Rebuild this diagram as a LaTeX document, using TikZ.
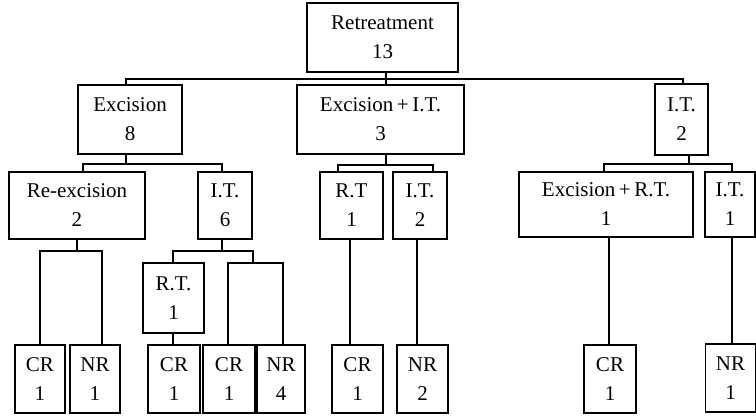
\documentclass[tikz,border=0pt]{standalone}
\usepackage{fontspec}
\setmainfont{Liberation Serif}
\begin{document}
\begin{tikzpicture}[x=1pt,y=-1pt,
  box/.style={draw, line width=1.5pt, inner sep=0pt, align=center,
    font=\fontsize{21}{29}\selectfont},
  conn/.style={line width=1.5pt, line cap=rect}]
\useasboundingbox (0,0) rectangle (756,416);
% level 0
\node[box, minimum width=151pt, minimum height=69pt] (ret) at (382.5,37.5) {Retreatment\\13};
% level 1
\node[box, minimum width=104pt, minimum height=69pt] (exc) at (130,119.5) {Excision\\8};
\node[box, minimum width=167pt, minimum height=69pt] (ei) at (380.5,119.5) {Excision\,+\,I.T.\\3};
\node[box, minimum width=53pt, minimum height=71pt] (it2) at (681.5,119.5) {I.T.\\2};
% level 2
\node[box, minimum width=136pt, minimum height=67pt] (reex) at (77,205.5) {Re-excision\\2};
\node[box, minimum width=54pt, minimum height=67pt] (it6) at (225,205.5) {I.T.\\6};
\node[box, minimum width=63pt, minimum height=67pt] (rt1) at (351.5,205.5) {R.T\\1};
\node[box, minimum width=54pt, minimum height=67pt] (it2b) at (420,205.5) {I.T.\\2};
\node[box, minimum width=174pt, minimum height=65pt] (exrt) at (606,204.5) {Excision\,+\,R.T.\\1};
\node[box, minimum width=50pt, minimum height=65pt] (it1) at (730,204.5) {I.T.\\1};
% level 3
\node[box, minimum width=61pt, minimum height=70pt] (rtA) at (173.5,298) {R.T.\\1};
% leaves
\node[box, minimum width=50pt, minimum height=68pt] (cr1) at (40,379) {CR\\1};
\node[box, minimum width=50pt, minimum height=68pt] (nr1) at (95,379) {NR\\1};
\node[box, minimum width=52pt, minimum height=68pt] (cr2) at (174,379) {CR\\1};
\node[box, minimum width=52pt, minimum height=68pt] (cr3) at (229,379) {CR\\1};
\node[box, minimum width=48pt, minimum height=68pt] (nr4) at (281,379) {NR\\4};
\node[box, minimum width=51pt, minimum height=68pt] (cr4) at (357.5,379) {CR\\1};
\node[box, minimum width=51pt, minimum height=68pt] (nr2) at (422.5,379) {NR\\2};
\node[box, minimum width=52pt, minimum height=68pt] (cr5) at (610,379) {CR\\1};
\node[box, minimum width=50pt, minimum height=68pt] (nr1b) at (730.5,378) {NR\\1};
% junction coordinates
\coordinate (t0) at (386,79); \coordinate (tL) at (126,79); \coordinate (tR) at (683,79);
\coordinate (e0) at (126,164); \coordinate (eL) at (83,164); \coordinate (eR) at (222,164);
\coordinate (f0) at (386,165); \coordinate (fL) at (338,165); \coordinate (fR) at (433,165);
\coordinate (g0) at (689,164); \coordinate (gL) at (604,164); \coordinate (gR) at (732,164);
\coordinate (h0) at (77,251); \coordinate (hL) at (40,251); \coordinate (hR) at (102,251);
\coordinate (k0) at (222,251); \coordinate (kL) at (173,251); \coordinate (kR) at (253,251);
\coordinate (m0) at (253,263); \coordinate (mL) at (228,263); \coordinate (mR) at (283,263);
\coordinate (p1) at (173,0); \coordinate (p2) at (350,0); \coordinate (p3) at (417,0);
\coordinate (p4) at (609,0); \coordinate (p5) at (732,0);
% connectors
\draw[conn] (ret.south -| t0) -- (ei.north -| t0);
\draw[conn] (exc.north -| tL) |- (tR) -- (it2.north -| tR);
\draw[conn] (exc.south -| e0) -- (e0);
\draw[conn] (reex.north -| eL) |- (eR) -- (it6.north -| eR);
\draw[conn] (ei.south -| f0) -- (f0);
\draw[conn] (rt1.north -| fL) |- (fR) -- (it2b.north -| fR);
\draw[conn] (it2.south -| g0) -- (g0);
\draw[conn] (exrt.north -| gL) |- (gR) -- (it1.north -| gR);
\draw[conn] (reex.south -| h0) -- (h0);
\draw[conn] (cr1.north -| hL) |- (hR) -- (nr1.north -| hR);
\draw[conn] (it6.south -| k0) -- (k0);
\draw[conn] (rtA.north -| kL) |- (kR) -- (m0);
\draw[conn] (cr3.north -| mL) |- (mR) -- (nr4.north -| mR);
\draw[conn] (rtA.south -| p1) -- (cr2.north -| p1);
\draw[conn] (rt1.south -| p2) -- (cr4.north -| p2);
\draw[conn] (it2b.south -| p3) -- (nr2.north -| p3);
\draw[conn] (exrt.south -| p4) -- (cr5.north -| p4);
\draw[conn] (it1.south -| p5) -- (nr1b.north -| p5);
\end{tikzpicture}
\end{document}
